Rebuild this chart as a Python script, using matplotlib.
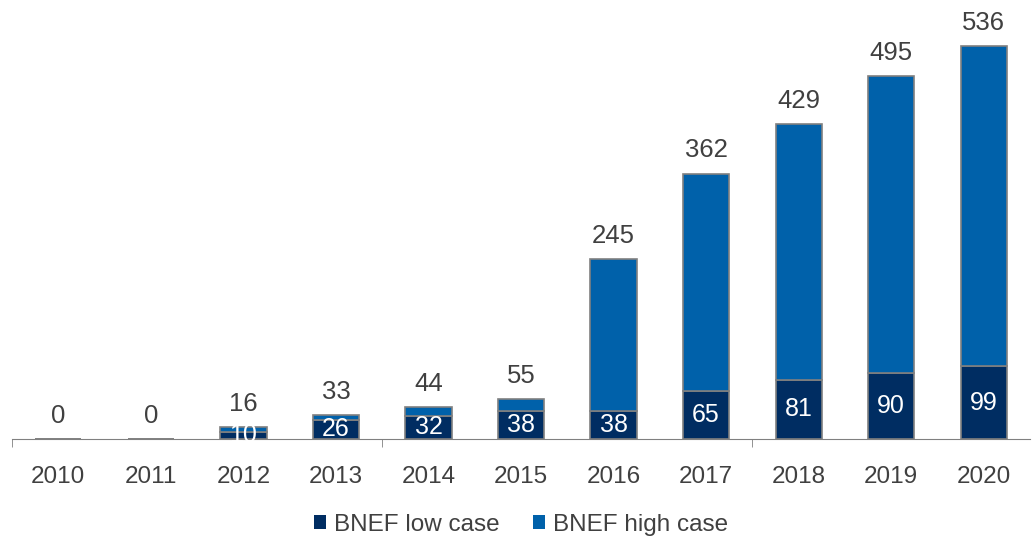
import matplotlib.pyplot as plt
import numpy as np

plt.rcParams['font.family'] = ['Liberation Sans', 'DejaVu Sans']

years = ["2010", "2011", "2012", "2013", "2014", "2015", "2016", "2017", "2018", "2019", "2020"]
low_case = np.array([0, 0, 10, 26, 32, 38, 38, 65, 81, 90, 99])
high_case = np.array([0, 0, 16, 33, 44, 55, 245, 362, 429, 495, 536])

dark = "#002D62"
blue = "#0061AA"
edge = "#808080"
text_col = "#404040"

fig = plt.figure(figsize=(10.34, 5.36), dpi=100)
ax = fig.add_axes([12 / 1034, 97 / 536, 1018 / 1034, 429 / 536])

x = np.arange(len(years))
extra = high_case - low_case
ax.bar(x, low_case, width=0.5, color=dark, edgecolor=edge, linewidth=1.2, label="BNEF low case")
ax.bar(x, extra, bottom=low_case, width=0.5, color=blue, edgecolor=edge, linewidth=1.2, label="BNEF high case")

for i in range(len(years)):
    ax.annotate(str(high_case[i]), (x[i], high_case[i]), xytext=(0, 8), textcoords="offset points",
                ha="center", va="bottom", fontsize=18.5, color=text_col)
    if low_case[i] > 0:
        ax.text(x[i], low_case[i] / 2, str(low_case[i]), ha="center", va="center",
                fontsize=18, color="white")

ax.set_xlim(-0.5, len(years) - 0.5)
ax.set_ylim(0, 585)
ax.set_yticks([])
for s in ["top", "right", "left"]:
    ax.spines[s].set_visible(False)
ax.spines["bottom"].set_color(edge)
ax.set_xticks(x)
ax.set_xticklabels(years, fontsize=17.5, color=text_col)
ax.tick_params(axis="x", length=0, pad=19.5)
ax.set_xticks([-0.5, 3.5, 7.5], minor=True)
ax.tick_params(axis="x", which="minor", length=6, color=edge)

leg = ax.legend(loc="center", bbox_to_anchor=(0.5, -0.2), ncol=2, frameon=False,
                fontsize=17.5, labelcolor=text_col, handlelength=0.5, handleheight=0.5,
                handletextpad=0.3, columnspacing=1.4)
for h in leg.legend_handles:
    h.set_edgecolor("none")

fig.savefig("out.png", dpi=100)
